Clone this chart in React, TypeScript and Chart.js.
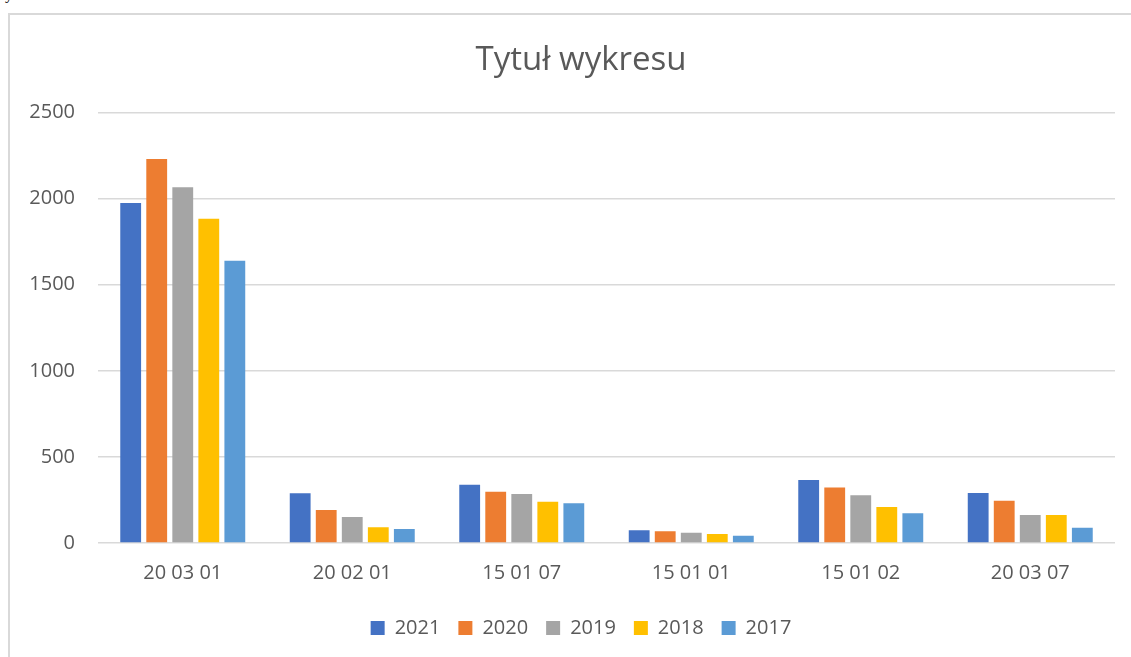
import React, { useEffect, useRef } from "react";
import { Chart, registerables } from "chart.js";

Chart.register(...registerables);

const categories = ["20 03 01", "20 02 01", "15 01 07", "15 01 01", "15 01 02", "20 03 07"];
const seriesNames = ["2021", "2020", "2019", "2018", "2017"];
const values2021 = [1975, 289, 339, 74, 366, 291];
const values2020 = [2231, 192, 298, 68, 322, 246];
const values2019 = [2066, 151, 285, 60, 277, 163];
const values2018 = [1884, 91, 240, 52, 209, 163];
const values2017 = [1640, 81, 231, 42, 173, 89];
const seriesColors = ["#4472C4", "#ED7D31", "#A5A5A5", "#FFC000", "#5B9BD5"];
const yTicks = [0, 500, 1000, 1500, 2000, 2500];
const chartTitle = "Tytuł wykresu";

const FONT = "'Open Sans', 'Noto Sans', sans-serif";
const TEXT = "#595959";
const CANVAS_W = 1162;
const CANVAS_H = 657;

export default function App() {
  const ref = useRef<HTMLCanvasElement | null>(null);

  useEffect(() => {
    if (!ref.current) return;
    const seriesValues = [values2021, values2020, values2019, values2018, values2017];
    const chart = new Chart(ref.current, {
      type: "bar",
      data: {
        labels: categories,
        datasets: seriesNames.map((name, i) => ({
          label: name,
          data: seriesValues[i],
          backgroundColor: seriesColors[i],
          borderWidth: 0,
          categoryPercentage: 0.768,
          barPercentage: 0.8,
        })),
      },
      options: {
        animation: false,
        responsive: false,
        maintainAspectRatio: false,
        layout: { padding: { left: 0, right: 0, top: 0, bottom: 9 } },
        plugins: {
          title: {
            display: true,
            text: chartTitle,
            color: TEXT,
            font: { family: FONT, size: 33, weight: "normal" },
            padding: { top: 41, bottom: 32 },
          },
          legend: {
            position: "bottom",
            labels: {
              color: TEXT,
              font: { family: FONT, size: 20 },
              boxWidth: 14,
              boxHeight: 14,
              padding: 18,
            },
          },
          tooltip: { enabled: false },
        },
        scales: {
          x: {
            grid: { display: false, drawTicks: false },
            border: { display: false },
            ticks: {
              color: TEXT,
              font: { family: FONT, size: 20 },
              padding: 18,
              maxRotation: 0,
            },
            afterFit: (s: any) => {
              s.height = 57;
            },
          },
          y: {
            min: 0,
            max: 2500,
            afterBuildTicks: (s: any) => {
              s.ticks = yTicks.map((v) => ({ value: v }));
            },
            grid: { color: "#D9D9D9", lineWidth: 1.5, drawTicks: false },
            border: { display: false },
            ticks: {
              color: TEXT,
              font: { family: FONT, size: 20 },
              padding: 23,
              callback: (v: any) => String(v),
            },
            afterFit: (s: any) => {
              s.width = 98;
            },
          },
          yRight: {
            position: "right",
            display: true,
            min: 0,
            max: 2500,
            grid: { display: false, drawTicks: false },
            border: { display: false },
            ticks: { display: false },
            afterFit: (s: any) => {
              s.width = CANVAS_W - 1115;
            },
          },
        },
      },
    });
    return () => chart.destroy();
  }, []);

  return (
    <div style={{ position: "fixed", left: 0, top: 0, width: 1131, height: 657, background: "#fff", overflow: "hidden" }}>
      <span
        style={{
          position: "absolute",
          left: 5,
          top: -14,
          fontFamily: "'Liberation Serif', serif",
          fontSize: 16,
          lineHeight: "16px",
          color: "#000",
        }}
      >
        y
      </span>
      <div
        style={{
          position: "absolute",
          left: 8,
          top: 13,
          width: 1200,
          height: 800,
          border: "2px solid #D9D9D9",
          boxSizing: "border-box",
        }}
      />
      <canvas
        ref={ref}
        width={CANVAS_W}
        height={CANVAS_H}
        style={{ position: "absolute", left: 0, top: 0, width: CANVAS_W, height: CANVAS_H }}
      />
    </div>
  );
}
